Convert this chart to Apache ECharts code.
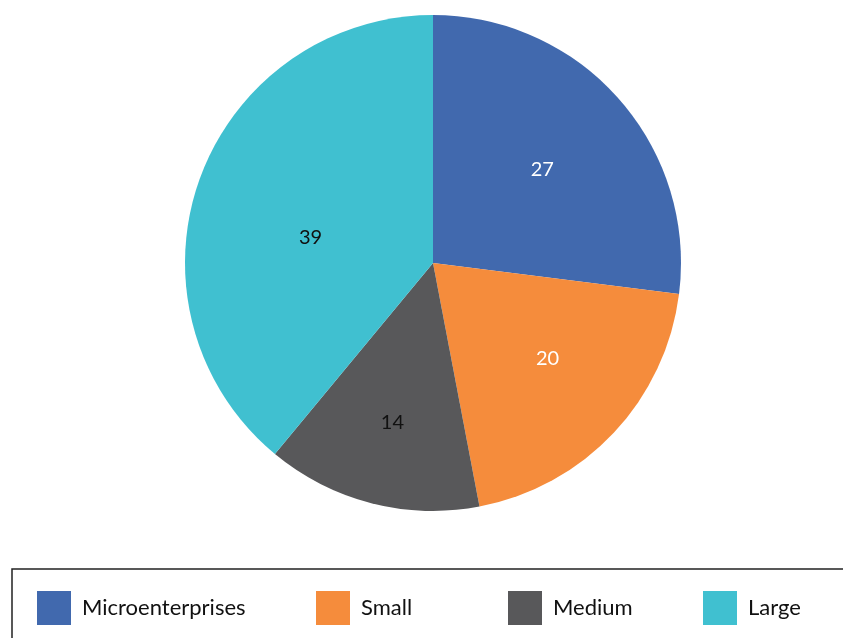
<!DOCTYPE html>
<html>
<head>
<meta charset="utf-8">
<script src="https://cdn.jsdelivr.net/npm/echarts@6/dist/echarts.min.js"></script>
<style>
  html, body { margin: 0; padding: 0; background: #fff; }
  #chart { width: 843px; height: 638px; }
</style>
</head>
<body>
<div id="chart"></div>
<script>
// Enterprise size shares
const categories = ['Microenterprises', 'Small', 'Medium', 'Large'];
const shares = [27, 20, 14, 39];
const colors = ['#4169AE', '#F58C3C', '#58585A', '#40C0D0'];
const labelColors = ['#ffffff', '#ffffff', '#111111', '#111111'];

// Nudges applied to each inside label (px)
const labelNudge = [[14, -9], [22, 9], [-9, 37], [-3, 18]];
// Left position of each legend entry (px)
const legendLeft = [37, 316, 508, 703];

const FONT = 'Lato, "Noto Sans", sans-serif';

const chart = echarts.init(document.getElementById('chart'), null, { renderer: 'canvas' });

chart.setOption({
  animation: false,
  color: colors,
  graphic: [{
    type: 'rect',
    shape: { x: 12, y: 569, width: 900, height: 120 },
    style: { fill: 'none', stroke: '#222', lineWidth: 1.5 },
    silent: true
  }],
  legend: categories.map((name, i) => ({
    data: [name],
    left: legendLeft[i],
    top: 591,
    padding: 0,
    icon: 'rect',
    itemWidth: 34,
    itemHeight: 34,
    itemGap: 10,
    selectedMode: false,
    textStyle: { fontFamily: FONT, fontSize: 22, color: '#111', padding: [0, 0, 0, 6] }
  })),
  series: [{
    type: 'pie',
    center: [433, 263],
    radius: 248,
    startAngle: 90,
    clockwise: true,
    silent: true,
    itemStyle: { borderWidth: 0 },
    label: {
      show: true,
      position: 'inside',
      fontFamily: FONT,
      fontSize: 20,
      formatter: '{c}'
    },
    labelLine: { show: false },
    labelLayout: function (p) {
      const n = labelNudge[p.dataIndex];
      return { dx: n[0], dy: n[1] };
    },
    data: categories.map((name, i) => ({
      name: name,
      value: shares[i],
      label: { color: labelColors[i] }
    }))
  }]
});
</script>
</body>
</html>
